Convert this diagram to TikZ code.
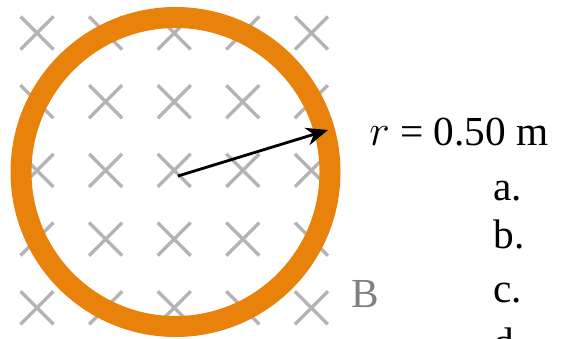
\documentclass[tikz,border=0pt]{standalone}
\usepackage{fontspec}
\setmainfont{Liberation Serif}
\usetikzlibrary{arrows.meta}
\definecolor{loopamber}{RGB}{232,130,10}
\definecolor{fieldgrey}{RGB}{180,180,180}
\definecolor{labelgrey}{RGB}{128,128,128}
\tikzset{
  fieldx/.style={draw=fieldgrey, line width=1.9pt},
  ring/.style={draw=loopamber, line width=0.42cm},
  radius arrow/.style={-{Stealth[length=4.4mm,width=3.6mm]}, line width=1.6pt, draw=black},
  lbl/.style={font=\fontsize{23.5}{28}\selectfont, anchor=base west, inner sep=0pt},
  item/.style={lbl},
}
\begin{document}
\begin{tikzpicture}[x=0.02cm,y=-0.02cm]
  \useasboundingbox (0,0) rectangle (561,338);
  \clip (0,0) rectangle (561,338);
  % field into the page
  \foreach \i in {0,...,4}{
    \foreach \j in {0,...,4}{
      \draw[fieldx] (37+68.6*\i-16.5,33+68.7*\j-16.5) -- ++(33,33);
      \draw[fieldx] (37+68.6*\i-16.5,33+68.7*\j+16.5) -- ++(33,-33);
    }
  }
  % loop
  \coordinate (ctr) at (175.5,172);
  \draw[ring] (ctr) circle[radius=154.5];
  \coordinate (tail) at (178,176);
  \coordinate (rim) at (328,130);
  \draw[radius arrow] (tail) -- (rim);
  % labels
  \node[lbl] (rlabel) at (369,145) {$r$ = 0.50 m};
  \node[lbl, text=labelgrey] (Blabel) at (351,307) {B};
  \node[item] (qa) at (493,200) {a.};
  \node[item] (qb) at (493,248) {b.};
  \node[item] (qc) at (493,302) {c.};
  \node[item] (qd) at (493,356) {d.};
\end{tikzpicture}
\end{document}
